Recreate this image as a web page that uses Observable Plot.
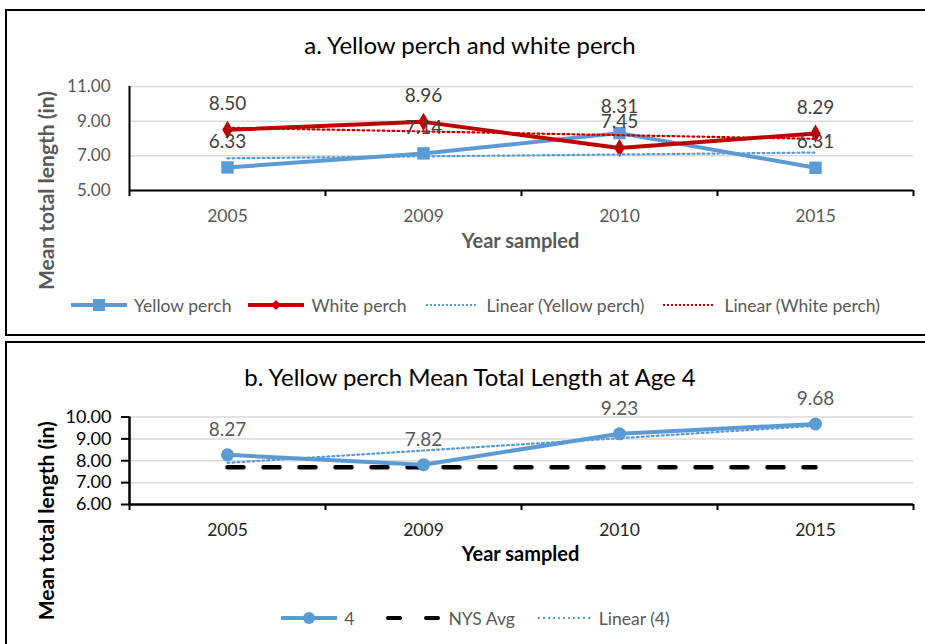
<!DOCTYPE html>
<html><head><meta charset="utf-8">
<script src="https://cdn.jsdelivr.net/npm/d3@7"></script>
<script src="https://cdn.jsdelivr.net/npm/@observablehq/plot@0.6"></script>
<style>
body{margin:0;width:925px;height:644px;overflow:hidden;background:#fff;font-family:Lato,"Noto Sans",sans-serif;position:relative}
.panel{position:absolute;border:2px solid #000;box-sizing:border-box;left:5px;width:960px}
.abs{position:absolute}
.title{position:absolute;left:0;width:940px;text-align:center;font-size:24px;line-height:28px;color:#000}
.legend{position:absolute;left:0;width:950px;display:flex;justify-content:center;align-items:center;font-size:17.5px;color:#595959}
.legend .item{display:flex;align-items:center;margin:0 8px}
.legend svg{margin-right:6px}
</style>
</head><body>
<div class="panel" style="top:9px;height:327px"></div>
<div class="panel" style="top:341px;height:330px"></div>
<div class="title" style="top:31px">a. Yellow perch and white perch</div>
<div class="title" style="top:363px">b. Yellow perch Mean Total Length at Age 4</div>
<div id="plotA" class="abs" style="left:0;top:60px"></div>
<div id="plotB" class="abs" style="left:0;top:390px"></div>
<div class="legend" style="top:292px;height:26px">
  <div class="item"><svg width="58" height="14"><line x1="1" y1="7" x2="57" y2="7" stroke="#5B9BD5" stroke-width="4"/><rect x="23" y="1" width="12" height="12" fill="#5B9BD5"/></svg>Yellow perch</div>
  <div class="item"><svg width="58" height="14"><line x1="1" y1="7" x2="57" y2="7" stroke="#C00000" stroke-width="4"/><path d="M29 2 L34 7 L29 12 L24 7Z" fill="#C00000"/></svg>White perch</div>
  <div class="item"><svg width="58" height="14"><line x1="3" y1="7" x2="55" y2="7" stroke="#5B9BD5" stroke-width="2" stroke-dasharray="2,2"/></svg>Linear (Yellow perch)</div>
  <div class="item"><svg width="58" height="14"><line x1="3" y1="7" x2="55" y2="7" stroke="#C00000" stroke-width="2" stroke-dasharray="2,2"/></svg>Linear (White perch)</div>
</div>
<div class="legend" style="top:605px;height:26px">
  <div class="item"><svg width="58" height="14"><line x1="1" y1="7" x2="57" y2="7" stroke="#5B9BD5" stroke-width="4"/><circle cx="29" cy="7" r="6" fill="#5B9BD5"/></svg>4</div>
  <div class="item" style="margin-left:22px"><svg width="58" height="14"><line x1="4" y1="7" x2="54" y2="7" stroke="#000" stroke-width="4" stroke-linecap="round" stroke-dasharray="12,26"/></svg>NYS Avg</div>
  <div class="item" style="margin-left:12px"><svg width="58" height="14"><line x1="3" y1="7" x2="55" y2="7" stroke="#5B9BD5" stroke-width="2" stroke-dasharray="2,3"/></svg>Linear (4)</div>
</div>
<script>
const years = ["2005", "2009", "2010", "2015"];
const yellowPerch = [6.33, 7.14, 8.31, 6.31];
const whitePerch = [8.50, 8.96, 7.45, 8.29];
const age4 = [8.27, 7.82, 9.23, 9.68];
const nysAvg = [7.70, 7.70, 7.70, 7.70];
const yTicksA = [5, 7, 9, 11];
const yTicksB = [6, 7, 8, 9, 10];

const rows = (vals) => years.map((yr, i) => ({i: i + 1, year: yr, v: vals[i]}));
const yp = rows(yellowPerch), wp = rows(whitePerch), a4 = rows(age4), nys = rows(nysAvg);
const idx = years.map((_, i) => i + 1);
const bounds = d3.range(years.length + 1).map(k => k + 0.5);
const fmt = d3.format(".2f");
const yearOf = (i) => years[i - 1] ?? "";
const blue = "#5B9BD5", red = "#C00000";
const font = "Lato, 'Noto Sans', sans-serif";

const plotA = Plot.plot({
  width: 925, height: 200,
  marginLeft: 129, marginRight: 12, marginTop: 26, marginBottom: 70,
  style: {fontFamily: font, background: "transparent", overflow: "visible"},
  x: {type: "linear", domain: [0.5, years.length + 0.5], label: null},
  y: {domain: [5, 11], label: null},
  marks: [
    Plot.gridY(yTicksA.slice(1), {stroke: "#d9d9d9", strokeOpacity: 1, strokeWidth: 1.5}),
    Plot.axisY({ticks: yTicksA, tickSize: 0, tickPadding: 19, tickFormat: fmt, fontSize: 17, fill: "#595959", label: null}),
    Plot.axisX({ticks: idx, tickSize: 0, tickPadding: 19, tickFormat: yearOf, fontSize: 17.5, fill: "#595959", label: null}),
    Plot.axisX({ticks: bounds, tickSize: 6, tickFormat: () => "", stroke: "#000", strokeWidth: 2, strokeOpacity: 1, label: null}),
    Plot.ruleY([5], {stroke: "#000", strokeWidth: 2}),
    Plot.ruleX([0.5], {stroke: "#000", strokeWidth: 2}),
    Plot.lineY(yp, {x: "i", y: "v", stroke: blue, strokeWidth: 4}),
    Plot.dot(yp, {x: "i", y: "v", symbol: "square", r: 7, fill: blue}),
    Plot.lineY(wp, {x: "i", y: "v", stroke: red, strokeWidth: 4}),
    Plot.dot(wp, {x: "i", y: "v", symbol: "diamond", r: 5.5, fill: red}),
    Plot.linearRegressionY(yp, {x: "i", y: "v", stroke: blue, strokeWidth: 2.2, strokeDasharray: "2,3", ci: 0}),
    Plot.linearRegressionY(wp, {x: "i", y: "v", stroke: red, strokeWidth: 2.2, strokeDasharray: "2,3", ci: 0}),
    Plot.text(yp, {x: "i", y: "v", text: d => fmt(d.v), dy: -26, fontSize: 19, fill: "#404040"}),
    Plot.text(wp, {x: "i", y: "v", text: d => fmt(d.v), dy: -26, fontSize: 19, fill: "#404040"}),
    Plot.text(["Mean total length (in)"], {frameAnchor: "left", textAnchor: "middle", dx: -82, dy: 52, rotate: -90, fontSize: 21, fontWeight: "bold", fill: "#595959"}),
    Plot.text(["Year sampled"], {frameAnchor: "bottom", dx: -1, dy: 57, fontSize: 20, fontWeight: "bold", fill: "#595959"})
  ]
});
document.getElementById("plotA").appendChild(plotA);

const plotB = Plot.plot({
  width: 925, height: 190,
  marginLeft: 129, marginRight: 12, marginTop: 26.5, marginBottom: 76,
  style: {fontFamily: font, background: "transparent", overflow: "visible"},
  x: {type: "linear", domain: [0.5, years.length + 0.5], label: null},
  y: {domain: [6, 10], label: null},
  marks: [
    Plot.gridY(yTicksB.slice(1), {stroke: "#d9d9d9", strokeOpacity: 1, strokeWidth: 1.5}),
    Plot.axisY({ticks: yTicksB, tickSize: 8, tickPadding: 10, tickFormat: fmt, fontSize: 18, fill: "#000", stroke: "#000", strokeWidth: 2, strokeOpacity: 1, label: null}),
    Plot.axisX({ticks: idx, tickSize: 0, tickPadding: 19, tickFormat: yearOf, fontSize: 17.5, fill: "#262626", label: null}),
    Plot.axisX({ticks: bounds, tickSize: 6, tickFormat: () => "", stroke: "#000", strokeWidth: 2, strokeOpacity: 1, label: null}),
    Plot.ruleY([6], {stroke: "#000", strokeWidth: 2.5}),
    Plot.ruleX([0.5], {stroke: "#000", strokeWidth: 2.5}),
    Plot.lineY(nys, {x: "i", y: "v", stroke: "#000", strokeWidth: 4.5, strokeDasharray: "16,20", strokeLinecap: "round"}),
    Plot.lineY(a4, {x: "i", y: "v", stroke: blue, strokeWidth: 4}),
    Plot.dot(a4, {x: "i", y: "v", r: 6.5, fill: blue}),
    Plot.linearRegressionY(a4, {x: "i", y: "v", stroke: blue, strokeWidth: 2.2, strokeDasharray: "2,3", ci: 0}),
    Plot.text(a4, {x: "i", y: "v", text: d => fmt(d.v), dy: -25, fontSize: 19, fill: "#595959"}),
    Plot.text(["Mean total length (in)"], {frameAnchor: "left", textAnchor: "middle", dx: -82, dy: 60, rotate: -90, fontSize: 21, fontWeight: "bold", fill: "#000"}),
    Plot.text(["Year sampled"], {frameAnchor: "bottom", dx: -1, dy: 56, fontSize: 20, fontWeight: "bold", fill: "#000"})
  ]
});
document.getElementById("plotB").appendChild(plotB);
</script>
</body></html>
